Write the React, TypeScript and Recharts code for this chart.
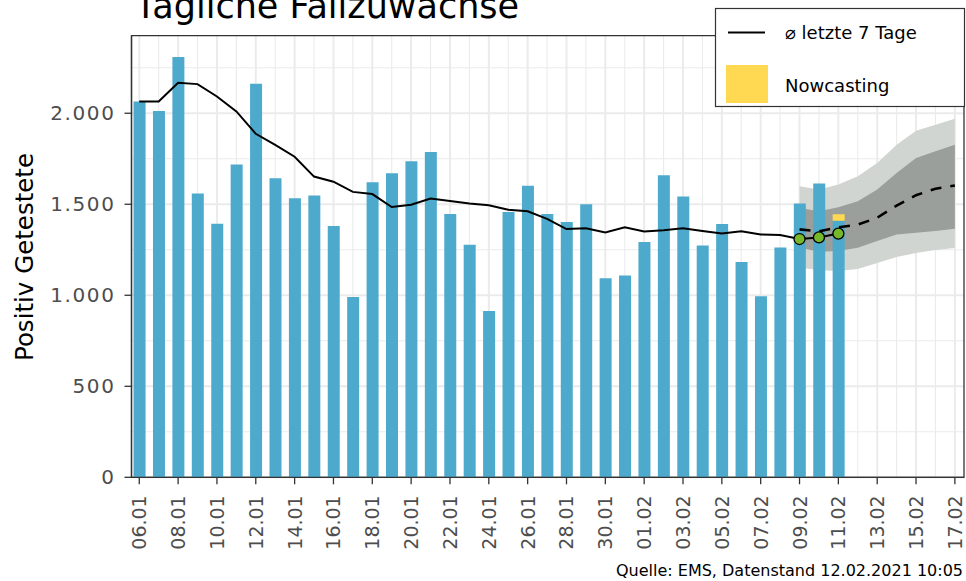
import React from 'react';
import { ComposedChart, Bar, Line, Area, XAxis, YAxis, CartesianGrid, ReferenceArea } from 'recharts';

const categories = [
  '06.01', '07.01', '08.01', '09.01', '10.01', '11.01', '12.01', '13.01', '14.01', '15.01',
  '16.01', '17.01', '18.01', '19.01', '20.01', '21.01', '22.01', '23.01', '24.01', '25.01',
  '26.01', '27.01', '28.01', '29.01', '30.01', '31.01', '01.02', '02.02', '03.02', '04.02',
  '05.02', '06.02', '07.02', '08.02', '09.02', '10.02', '11.02', '12.02', '13.02', '14.02',
  '15.02', '16.02', '17.02',
];

// daily positive tests (06.01 – 11.02)
const cases = [
  2065, 2012, 2309, 1559, 1393, 1718, 2162, 1643, 1533, 1548,
  1380, 990, 1621, 1670, 1736, 1787, 1447, 1278, 913, 1458,
  1601, 1447, 1402, 1500, 1094, 1108, 1292, 1659, 1543, 1274,
  1391, 1183, 995, 1263, 1504, 1614, 1410,
];
// nowcasting addition on the last reported day
const nowcastLast = 35;

// 7-day mean
const avg7 = [
  2065, 2065, 2167, 2160, 2092, 2010, 1887, 1826, 1761, 1652,
  1624, 1568, 1556, 1485, 1497, 1532, 1518, 1504, 1494, 1470,
  1461, 1420, 1364, 1368, 1345, 1373, 1350, 1357, 1368, 1353,
  1339, 1351, 1334, 1331, 1309, 1318, 1339,
];

// forecast starts at 09.02
const forecastStart = 34;
const forecast = [1362, 1351, 1373, 1388, 1426, 1493, 1550, 1585, 1603];
const outerLow = [1152, 1137, 1134, 1145, 1177, 1210, 1232, 1249, 1260];
const outerHigh = [1599, 1581, 1608, 1654, 1727, 1827, 1904, 1937, 1970];
const innerLow = [1261, 1239, 1243, 1261, 1298, 1334, 1343, 1353, 1365];
const innerHigh = [1480, 1462, 1484, 1517, 1581, 1672, 1754, 1791, 1827];

const yTicks = [0, 500, 1000, 1500, 2000];
const yTickLabels = ['0', '500', '1.000', '1.500', '2.000'];
const yMinorTicks = [250, 750, 1250, 1750, 2250];
const xMajorIdx = categories.map((_, i) => i).filter((i) => i % 2 === 0);
const xMinorIdx = categories.map((_, i) => i).filter((i) => i % 2 === 1);

const X_DOMAIN: [number, number] = [-0.4, 42.47];
const Y_DOMAIN: [number, number] = [0, 2426];

const data = categories.map((label, i) => {
  const j = i - forecastStart;
  const inF = j >= 0 && j < forecast.length;
  return {
    idx: i,
    label,
    cases: i < cases.length ? cases[i] : null,
    nowcast: i === cases.length - 1 ? nowcastLast : null,
    avg: i < avg7.length ? avg7[i] : null,
    dots: i >= forecastStart && i < avg7.length ? avg7[i] : null,
    forecast: inF ? forecast[j] : null,
    outer: inF ? [outerLow[j], outerHigh[j]] : null,
    inner: inF ? [innerLow[j], innerHigh[j]] : null,
  };
});

const FONT = 'DejaVu Sans';

const XTick = (props: any) => {
  const { x, y, payload } = props;
  const label = categories[payload.value] ?? '';
  return (
    <text
      transform={`translate(${x},${y}) rotate(-90)`}
      x={-9}
      y={0}
      textAnchor="end"
      dominantBaseline="central"
      fontSize={19}
      fontFamily={FONT}
      fill="#4d4d4d"
    >
      {label}
    </text>
  );
};

const YTick = (props: any) => {
  const { x, y, payload } = props;
  const label = yTickLabels[yTicks.indexOf(payload.value)] ?? String(payload.value);
  return (
    <text
      x={x}
      y={y}
      textAnchor="end"
      dominantBaseline="central"
      fontSize={20}
      letterSpacing={1.6}
      fontFamily={FONT}
      fill="#4d4d4d"
    >
      {label}
    </text>
  );
};

export default function App() {
  return (
    <div style={{ position: 'absolute', left: 0, top: 0, width: 966, height: 581, background: '#fff' }}>
      <ComposedChart
        width={966}
        height={581}
        data={data}
        margin={{ top: 35.7, right: 2, bottom: 43.7, left: 71.5 }}
      >
        <CartesianGrid
          stroke="#ebebeb"
          strokeWidth={1.1}
          horizontalValues={yMinorTicks}
          verticalValues={xMinorIdx}
        />
        <CartesianGrid
          stroke="#ebebeb"
          strokeWidth={2}
          horizontalValues={yTicks}
          verticalValues={xMajorIdx}
        />
        <XAxis
          dataKey="idx"
          type="number"
          domain={X_DOMAIN}
          allowDataOverflow
          ticks={xMajorIdx}
          interval={0}
          height={60}
          tickSize={7}
          tickMargin={2}
          tickLine={{ stroke: '#333', strokeWidth: 1.3 }}
          axisLine={{ stroke: '#333', strokeWidth: 1.3 }}
          tick={(p: any) => <XTick {...p} />}
        />
        <YAxis
          type="number"
          domain={Y_DOMAIN}
          allowDataOverflow
          ticks={yTicks}
          interval={0}
          width={60}
          tickSize={7}
          tickMargin={9}
          tickLine={{ stroke: '#333', strokeWidth: 1.3 }}
          axisLine={{ stroke: '#333', strokeWidth: 1.3 }}
          tick={(p: any) => <YTick {...p} />}
        />
        <Area
          dataKey="outer"
          type="linear"
          fill="#d1d5d1"
          fillOpacity={1}
          stroke="none"
          isAnimationActive={false}
        />
        <Area
          dataKey="inner"
          type="linear"
          fill="#9b9f9b"
          fillOpacity={1}
          stroke="none"
          isAnimationActive={false}
        />
        <Bar dataKey="cases" stackId="s" fill="#4eaacc" barSize={12} isAnimationActive={false} />
        <Bar dataKey="nowcast" stackId="s" fill="#ffd952" barSize={12} isAnimationActive={false} />
        <Line
          dataKey="avg"
          type="linear"
          stroke="#000"
          strokeWidth={2}
          dot={false}
          activeDot={false}
          isAnimationActive={false}
        />
        <Line
          dataKey="forecast"
          type="linear"
          stroke="#000"
          strokeWidth={2.6}
          strokeDasharray="11 9"
          dot={false}
          activeDot={false}
          isAnimationActive={false}
        />
        <Line
          dataKey="dots"
          type="linear"
          stroke="none"
          dot={{ r: 5.5, fill: '#76b82a', stroke: '#000', strokeWidth: 1.3 }}
          activeDot={false}
          isAnimationActive={false}
        />
        <ReferenceArea
          x1={X_DOMAIN[0]}
          x2={X_DOMAIN[1]}
          y1={Y_DOMAIN[0]}
          y2={Y_DOMAIN[1]}
          fill="none"
          fillOpacity={0}
          stroke="#333"
          strokeWidth={1.3}
          ifOverflow="visible"
        />
      </ComposedChart>
      <svg
        width={966}
        height={581}
        style={{ position: 'absolute', left: 0, top: 0, pointerEvents: 'none' }}
      >
        <text x={135} y={18} fontSize={35} fontFamily={FONT} fill="#000">
          Tägliche Fallzuwächse
        </text>
        <text
          transform="translate(33,257) rotate(-90)"
          textAnchor="middle"
          fontSize={24.5}
          fontFamily={FONT}
          fill="#000"
        >
          Positiv Getestete
        </text>
        <text x={963} y={576} textAnchor="end" fontSize={16} fontFamily={FONT} fill="#000">
          Quelle: EMS, Datenstand 12.02.2021 10:05
        </text>
        <rect x={715.5} y={8.5} width={249} height={98} fill="#fff" stroke="#333" strokeWidth={1.2} />
        <line x1={728} x2={765} y1={32.5} y2={32.5} stroke="#000" strokeWidth={2.2} />
        <text x={785} y={39} fontSize={18} fontFamily={FONT} fill="#000">
          ⌀ letzte 7 Tage
        </text>
        <rect x={726} y={65} width={42} height={38} fill="#ffd952" />
        <text x={785} y={92} fontSize={18} fontFamily={FONT} fill="#000">
          Nowcasting
        </text>
      </svg>
    </div>
  );
}
